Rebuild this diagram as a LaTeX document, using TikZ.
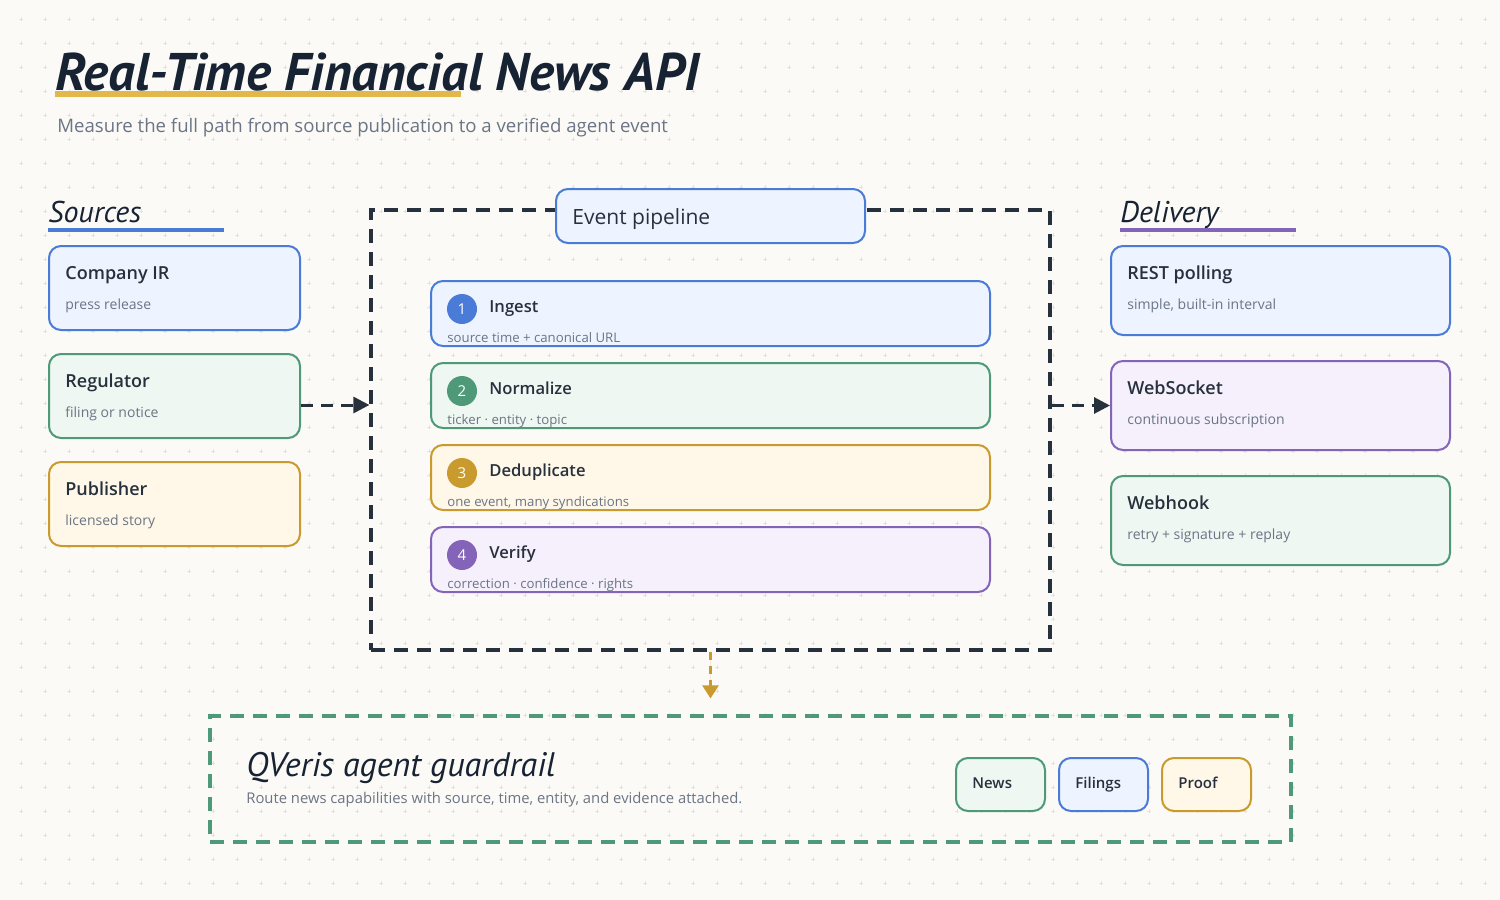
\documentclass[tikz,border=0pt]{standalone}
\usepackage{fontspec}
\setmainfont{Open Sans}
\newfontfamily\semib{Open Sans Semibold}
\newfontfamily\hand{PT Sans}
\usetikzlibrary{calc,fit,arrows.meta}
\definecolor{bg}{HTML}{FBFAF6}
\definecolor{gridc}{HTML}{E4E2DA}
\definecolor{ink}{HTML}{172233}
\definecolor{txt}{HTML}{27313D}
\definecolor{mute}{HTML}{6B7585}
\definecolor{cblue}{HTML}{4A7BD6}
\definecolor{fblue}{HTML}{EEF4FF}
\definecolor{cgreen}{HTML}{4E9A78}
\definecolor{fgreen}{HTML}{EEF7F1}
\definecolor{cgold}{HTML}{C99A2E}
\definecolor{fgold}{HTML}{FFF8E8}
\definecolor{cpurple}{HTML}{8464B8}
\definecolor{fpurple}{HTML}{F5F0FC}
\definecolor{cul}{HTML}{E2B84B}
\definecolor{frame}{HTML}{27313D}
\begin{document}
\begin{tikzpicture}[x=0.5pt,y=-0.5pt,
  card/.style={rectangle, rounded corners=6pt, line width=1pt, inner sep=0pt},
  ttl/.style={anchor=base west, text=txt, font=\semib\fontsize{9}{11}\selectfont, inner sep=0pt},
  sub/.style={anchor=base west, text=mute, font=\fontsize{7}{9}\selectfont, inner sep=0pt},
  ssub/.style={anchor=base west, text=mute, font=\fontsize{6.6}{8}\selectfont, inner sep=0pt},
  head/.style={anchor=base west, text=ink, font=\hand\itshape\fontsize{15}{17}\selectfont, inner sep=0pt},
  dashframe/.style={rectangle, line width=1.6pt, dash pattern=on 7pt off 4.5pt, inner sep=0pt},
  conn/.style={draw=frame, line width=1.5pt, dash pattern=on 6pt off 4pt, -{Triangle[length=8pt,width=8pt]}},
  numc/.style={circle, minimum size=15pt, inner sep=0pt, text=white, font=\fontsize{7.5}{9}\selectfont}
]
\useasboundingbox (0,0) rectangle (1500,900);
\fill[bg] (0,0) rectangle (1500,900);
\foreach \i in {0,...,62}{
  \foreach \j in {0,...,37}{
    \draw[gridc, line width=0.3pt] (\i*24+21-2,\j*24+19) -- ++(4,0) (\i*24+21,\j*24+19-2) -- ++(0,4);
  }
}
% title
\draw[cul, line width=3pt] (55,94) -- (461,94);
\node[anchor=base west, inner sep=0pt, text=ink, font=\hand\itshape\bfseries\fontsize{26.5}{30}\selectfont] (title) at (55,90) {Real-Time Financial News API};
\node[anchor=base west, inner sep=0pt, text=mute, font=\fontsize{9.3}{11}\selectfont] (subtitle) at (57,132) {Measure the full path from source publication to a verified agent event};

% Sources
\draw[cblue, line width=2pt] (48,230) -- (224,230);
\node[head] (srchead) at (48,222) {Sources};
\node[card, draw=cblue, fill=fblue, fit={(49,246)(300,330)}] (ir) {};
\node[ttl] at ($(ir.north west)+(17,34)$) {Company IR};
\node[sub] at ($(ir.north west)+(17,64)$) {press release};
\node[card, draw=cgreen, fill=fgreen, fit={(49,354)(300,438)}] (reg) {};
\node[ttl] at ($(reg.north west)+(17,34)$) {Regulator};
\node[sub] at ($(reg.north west)+(17,64)$) {filing or notice};
\node[card, draw=cgold, fill=fgold, fit={(49,462)(300,546)}] (pub) {};
\node[ttl] at ($(pub.north west)+(17,34)$) {Publisher};
\node[sub] at ($(pub.north west)+(17,64)$) {licensed story};

% Pipeline
\node[dashframe, draw=frame, fit={(371,210)(1050,650)}] (pipe) {};
\node[card, draw=cblue, fill=fblue, fit={(556,189)(865,243)}] (evbox) {};
\node[anchor=base west, inner sep=0pt, text=txt, font=\fontsize{10.5}{12}\selectfont] at ($(evbox.north west)+(17,36)$) {Event pipeline};

\foreach \n/\y/\c/\f/\t/\s in {1/281/cblue/fblue/Ingest/{source time + canonical URL},
  2/363/cgreen/fgreen/Normalize/{ticker · entity · topic},
  3/445/cgold/fgold/Deduplicate/{one event, many syndications},
  4/527/cpurple/fpurple/Verify/{correction · confidence · rights}}{
  \node[card, draw=\c, fill=\f, fit={(431,\y)(990,\y+65)}] (step\n) {};
  \node[numc, fill=\c] (num\n) at ($(step\n.north west)+(32,29)$) {\n};
  \node[ttl, font=\semib\fontsize{8.3}{10}\selectfont] at ($(step\n.north west)+(59,32)$) {\t};
  \node[ssub] at ($(step\n.north west)+(17,62)$) {\s};
}

% Delivery
\draw[cpurple, line width=2pt] (1120,230) -- (1296,230);
\node[head] (delhead) at (1120,222) {Delivery};
\node[card, draw=cblue, fill=fblue, fit={(1111,246)(1450,335)}] (rest) {};
\node[ttl] at ($(rest.north west)+(17,34)$) {REST polling};
\node[sub] at ($(rest.north west)+(17,64)$) {simple, built-in interval};
\node[card, draw=cpurple, fill=fpurple, fit={(1111,361)(1450,450)}] (ws) {};
\node[ttl] at ($(ws.north west)+(17,34)$) {WebSocket};
\node[sub] at ($(ws.north west)+(17,64)$) {continuous subscription};
\node[card, draw=cgreen, fill=fgreen, fit={(1111,476)(1450,565)}] (hook) {};
\node[ttl] at ($(hook.north west)+(17,34)$) {Webhook};
\node[sub] at ($(hook.north west)+(17,64)$) {retry + signature + replay};

% Guardrail
\node[dashframe, draw=cgreen, fit={(210,716)(1291,842)}] (guard) {};
\node[anchor=base west, inner sep=0pt, text=ink, font=\hand\itshape\fontsize{17}{20}\selectfont] (ghead) at (246,776) {QVeris agent guardrail};
\node[sub, font=\fontsize{7.4}{9}\selectfont] (gsub) at (246,803) {Route news capabilities with source, time, entity, and evidence attached.};
\node[card, draw=cgreen, fill=fgreen, fit={(956,758)(1045,811)}] (news) {};
\node[ttl, font=\semib\fontsize{7.5}{9}\selectfont] at ($(news.north west)+(17,31)$) {News};
\node[card, draw=cblue, fill=fblue, fit={(1059,758)(1148,811)}] (fil) {};
\node[ttl, font=\semib\fontsize{7.5}{9}\selectfont] at ($(fil.north west)+(17,31)$) {Filings};
\node[card, draw=cgold, fill=fgold, fit={(1162,758)(1251,811)}] (proof) {};
\node[ttl, font=\semib\fontsize{7.5}{9}\selectfont] at ($(proof.north west)+(17,31)$) {Proof};

% connectors
\draw[conn] ([yshift=-4.5pt]reg.east) -- ([yshift=-4.5pt]reg.east -| pipe.west);
\draw[conn] (pipe.east |- ws.west) -- (ws.west);
\draw[conn, draw=cgold, fill=cgold, line width=1.3pt, dash pattern=on 4pt off 3pt, -{Triangle[length=6.5pt,width=8pt]}] (pipe.south) -- ([yshift=8pt]guard.north -| pipe.south);
\end{tikzpicture}
\end{document}
